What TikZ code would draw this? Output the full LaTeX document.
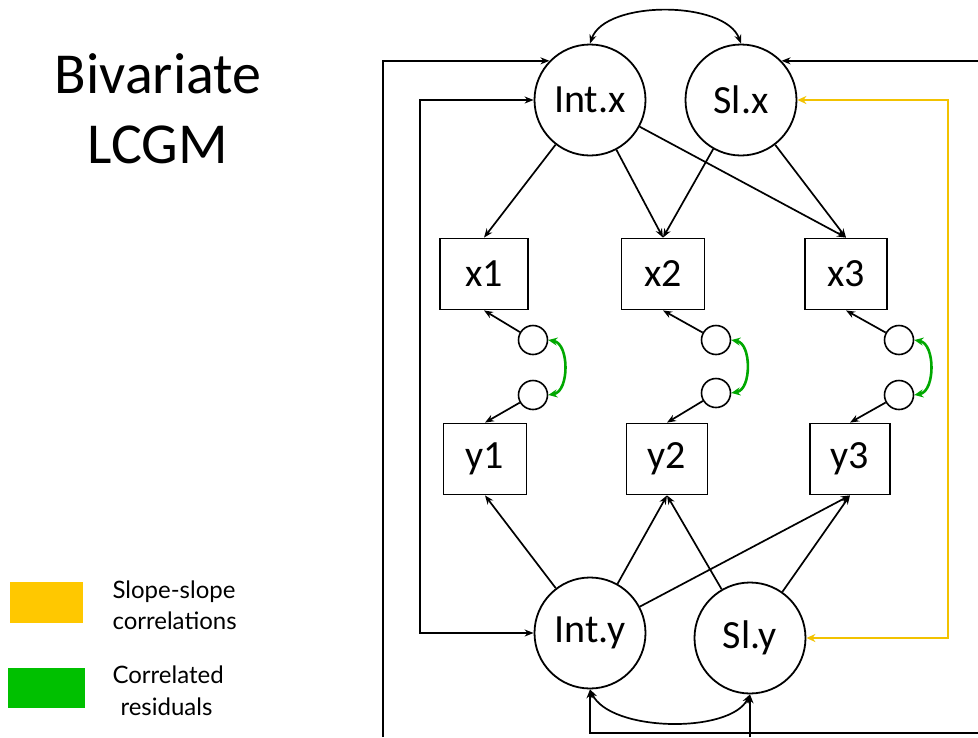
\documentclass[tikz,border=0pt]{standalone}
\usepackage{fontspec}
\setmainfont{Carlito}
\newfontfamily\legendfont{Lato}
\usetikzlibrary{arrows.meta}
\definecolor{slopeyellow}{HTML}{F2C200}
\definecolor{legyellow}{HTML}{FFC800}
\definecolor{residgreen}{HTML}{00A800}
\definecolor{leggreen}{HTML}{00C000}
\begin{document}
\begin{tikzpicture}[x=1pt,y=-1pt,
  lat/.style={draw,circle,line width=1.8pt,minimum size=111pt,inner sep=0pt,font=\fontsize{40}{46}\selectfont},
  obs/.style={draw,rectangle,line width=1.8pt,minimum height=71pt,inner sep=0pt,font=\fontsize{40}{46}\selectfont},
  res/.style={draw,circle,line width=1.6pt,minimum size=29pt,inner sep=0pt},
  arr/.style={line width=1.7pt,-{Stealth[length=9pt,width=7pt]}},
  darr/.style={line width=1.7pt,{Stealth[length=9pt,width=7pt]}-{Stealth[length=9pt,width=7pt]}},
  yarr/.style={line width=2.5pt,color=slopeyellow,{Stealth[length=9pt,width=8pt]}-{Stealth[length=9pt,width=8pt]}},
  garr/.style={line width=2.6pt,color=residgreen,{Stealth[length=9pt,width=8pt]}-{Stealth[length=9pt,width=8pt]}},
  ttl/.style={anchor=base,font=\fontsize{58}{68}\selectfont},
  leg/.style={anchor=base west,font=\legendfont\fontsize{24}{28}\selectfont}
]
\useasboundingbox (0,0) rectangle (978,737);

% title
\node[ttl] (t1) at (158,93) {Bivariate};
\node[ttl] (t2) at (158,163) {LCGM};

% legend
\node[draw=none,fill=legyellow,minimum width=73pt,minimum height=41pt,inner sep=0pt] (ly) at (46.5,602.5) {};
\node[draw=none,fill=leggreen,minimum width=77pt,minimum height=40pt,inner sep=0pt] (lg) at (46.5,688) {};
\node[leg] (l1) at (109,598) {Slope-slope};
\node[leg] (l2) at (109,629) {correlations};
\node[leg] (l3) at (109,683) {Correlated};
\node[leg] (l4) at (117,715) {residuals};

% latent factors
\node[lat] (ix) at (590,100) {Int.x};
\node[lat] (sx) at (741,100) {Sl.x};
\node[lat] (iy) at (590,633) {Int.y};
\node[lat] (sy) at (750,638) {Sl.y};

% observed
\node[obs,minimum width=88pt] (x1) at (484,274) {x1};
\node[obs,minimum width=83pt] (x2) at (663,274) {x2};
\node[obs,minimum width=82pt] (x3) at (846,274) {x3};
\node[obs,minimum width=83pt] (y1) at (485,459) {y1};
\node[obs,minimum width=81pt] (y2) at (667,459) {y2};
\node[obs,minimum width=80pt] (y3) at (850,459) {y3};

% residuals
\node[res] (ex1) at (533,340) {};
\node[res] (ey1) at (533,395) {};
\node[res] (ex2) at (716,340) {};
\node[res] (ey2) at (716,393) {};
\node[res] (ex3) at (899,340) {};
\node[res] (ey3) at (899,395) {};

% loadings
\draw[arr] (ix) -- (x1.north);
\draw[arr] (ix) -- (x2.north);
\draw[arr] (ix) -- (x3.north);
\draw[arr] (sx) -- (x2.north);
\draw[arr] (sx) -- (x3.north);
\draw[arr] (iy) -- (y1.south);
\draw[arr] (iy) -- (y2.south);
\draw[arr] (iy) -- (y3.south);
\draw[arr] (sy) -- (y2.south);
\draw[arr] (sy) -- (y3.south);

% residual paths
\draw[arr] (ex1) -- (x1.south);
\draw[arr] (ex2) -- (x2.south);
\draw[arr] (ex3) -- (x3.south);
\draw[arr] (ey1) -- (y1.north);
\draw[arr] (ey2) -- (y2.north);
\draw[arr] (ey3) -- (y3.north);

% correlated residuals
\draw[garr] (ex1.east) to[bend left=80] (ey1.east);
\draw[garr] (ex2.east) to[bend left=80] (ey2.east);
\draw[garr] (ex3.east) to[bend left=80] (ey3.east);

% factor covariances
\draw[darr] (ix.north) .. controls (605,0) and (725,0) .. (sx.north);
\draw[darr] (iy.south) .. controls (610,732) and (730,734) .. (sy.south);

% inner left loop
\coordinate (la) at (420,100);
\coordinate (lb) at (420,633);
\draw[darr] (ix.west) -- (la) -- (lb) -- (iy.west);

% outer left line
\coordinate (bl) at (383,737);
\draw[arr] (bl) |- (ix.136);

% top right line
\coordinate (tr) at (978,0);
\draw[arr] (tr |- sx.44) -- (sx.44);

% yellow slope-slope
\coordinate (ya) at (948,100);
\coordinate (yb) at (948,638);
\draw[yarr] (sx.east) -- (ya) -- (yb) -- (sy.east);

% bottom lines
\coordinate (br) at (978,733);
\draw[arr] (br) -| (iy.south);
\coordinate (bs) at (750,737);
\draw[arr] (bs) -- (sy.south);
\end{tikzpicture}
\end{document}
